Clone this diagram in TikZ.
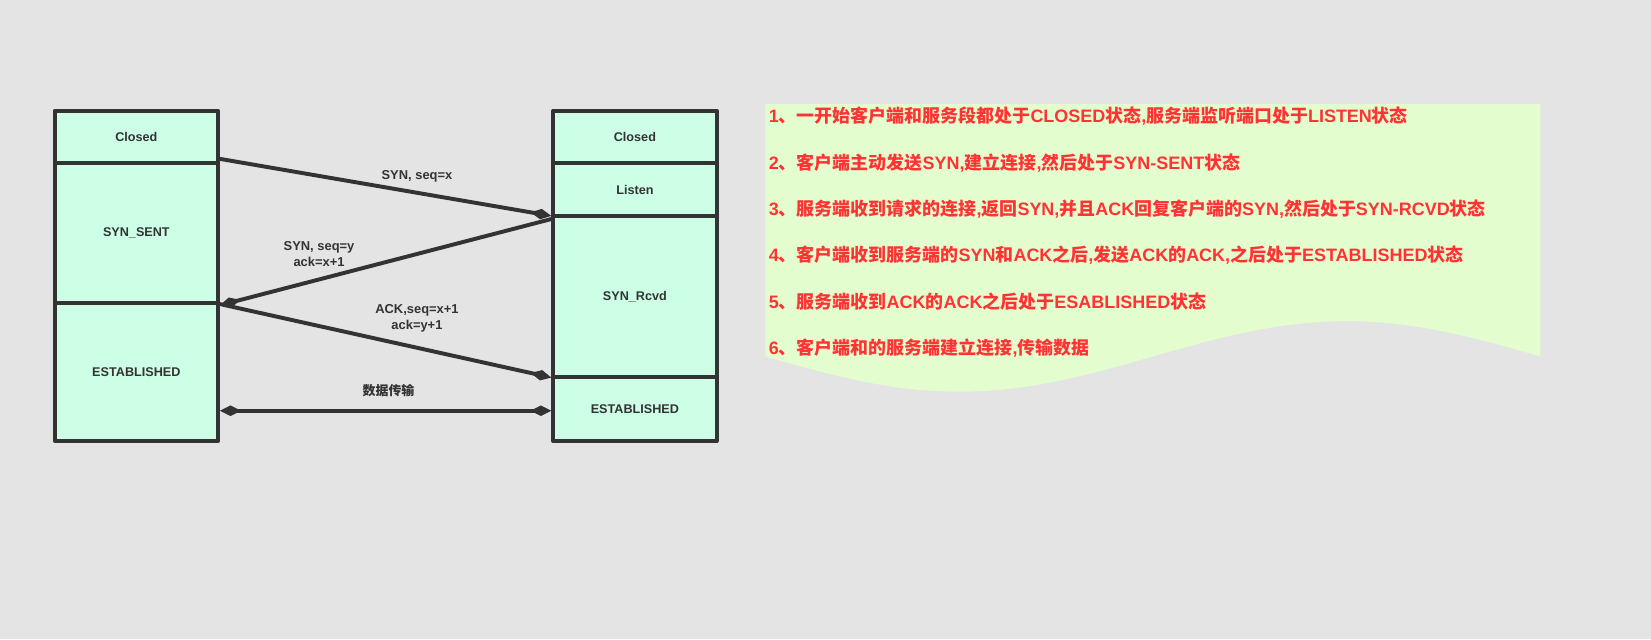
\documentclass[tikz,border=0pt]{standalone}
\usepackage{fontspec}
\setmainfont{Liberation Sans}
\newfontfamily\cjk{Noto Sans CJK SC}
\usetikzlibrary{arrows.meta}
\definecolor{bg}{HTML}{E4E4E4}
\definecolor{mint}{HTML}{CCFFE6}
\definecolor{panel}{HTML}{E4FDCF}
\definecolor{dark}{HTML}{333333}
\definecolor{redtxt}{HTML}{FF3333}
\newcommand\C[1]{{\cjk #1}}
\begin{document}
\begin{tikzpicture}[x=0.75pt,y=-0.75pt,
  cell/.style={draw=dark,fill=mint,line width=2.85pt,line join=round,minimum width=116.25pt,inner sep=0pt,font=\bfseries\fontsize{9}{11}\selectfont,text=dark},
  conn/.style={draw=dark,line width=2.8pt,-{Diamond[length=15pt,width=7.5pt]}},
  both/.style={draw=dark,line width=2.8pt,{Diamond[length=15pt,width=7.5pt]}-{Diamond[length=15pt,width=7.5pt]}},
  lbl/.style={font=\bfseries\fontsize{9.2}{11.25}\selectfont,text=dark,align=center,inner sep=0pt},
  note/.style={anchor=base west,inner sep=0pt,font=\bfseries\fontsize{12.8}{15}\selectfont,text=redtxt}]
\fill[bg] (0,0) rectangle (1568,606.9);
\useasboundingbox (0,0) rectangle (1568,606.9);
% cells
\node[cell,minimum height=37.5pt]   (lclosed) at (129.5,130)   {Closed};
\node[cell,minimum height=99.75pt]  (lsent)   at (129.5,221.5) {SYN\_SENT};
\node[cell,minimum height=98.25pt]  (lest)    at (129.5,353.5) {ESTABLISHED};
\node[cell,minimum height=37.5pt]   (rclosed) at (603,130)   {Closed};
\node[cell,minimum height=37.5pt]   (rlisten) at (603,180)   {Listen};
\node[cell,minimum height=114.75pt] (rrcvd)   at (603,281.5) {SYN\_Rcvd};
\node[cell,minimum height=45.75pt]  (rest)    at (603,388.5) {ESTABLISHED};
\coordinate (dend) at ([yshift=-1.2pt]rest.west);
% connectors
\draw[conn] ([yshift=4.5pt]lclosed.south east) -- ([yshift=1.4pt]rlisten.south west);
\draw[conn] ([yshift=-3.7pt]rrcvd.north west) -- (lsent.south east);
\draw[conn] ([yshift=-2pt]lest.north east) -- ([yshift=1pt]rrcvd.south west);
\draw[both] (lest.east |- dend) -- (dend);
% labels
\node[lbl] (l1) at (396,167) {SYN, seq=x};
\node[lbl] (l2) at (303,241) {SYN, seq=y\\ack=x+1};
\node[lbl] (l3) at (396,302) {ACK,seq=x+1\\ack=y+1};
\node[lbl,font=\cjk\bfseries\fontsize{9.2}{11}\selectfont] (l4) at (369,371) {数据传输};
% panel
\fill[panel] (727,99) -- (1463,99) -- (1463,338.5) -- plot[domain=1463:727,samples=80,variable=\t] (\t,{338.5+33.5*sin((\t-727)/736*360)}) -- cycle;
\node[note] (n1) at (730,116.3) {1\C{、一开始客户端和服务段都处于}CLOSED\C{状态},\C{服务端监听端口处于}LISTEN\C{状态}};
\node[note] (n2) at (730,160.8) {2\C{、客户端主动发送}SYN,\C{建立连接},\C{然后处于}SYN-SENT\C{状态}};
\node[note] (n3) at (730,204.8) {3\C{、服务端收到请求的连接},\C{返回}SYN,\C{并且}ACK\C{回复客户端的}SYN,\C{然后处于}SYN-RCVD\C{状态}};
\node[note] (n4) at (730,248.8) {4\C{、客户端收到服务端的}SYN\C{和}ACK\C{之后},\C{发送}ACK\C{的}ACK,\C{之后处于}ESTABLISHED\C{状态}};
\node[note] (n5) at (730,292.8) {5\C{、服务端收到}ACK\C{的}ACK\C{之后处于}ESABLISHED\C{状态}};
\node[note] (n6) at (730,336.8) {6\C{、客户端和的服务端建立连接},\C{传输数据}};
\end{tikzpicture}
\end{document}
